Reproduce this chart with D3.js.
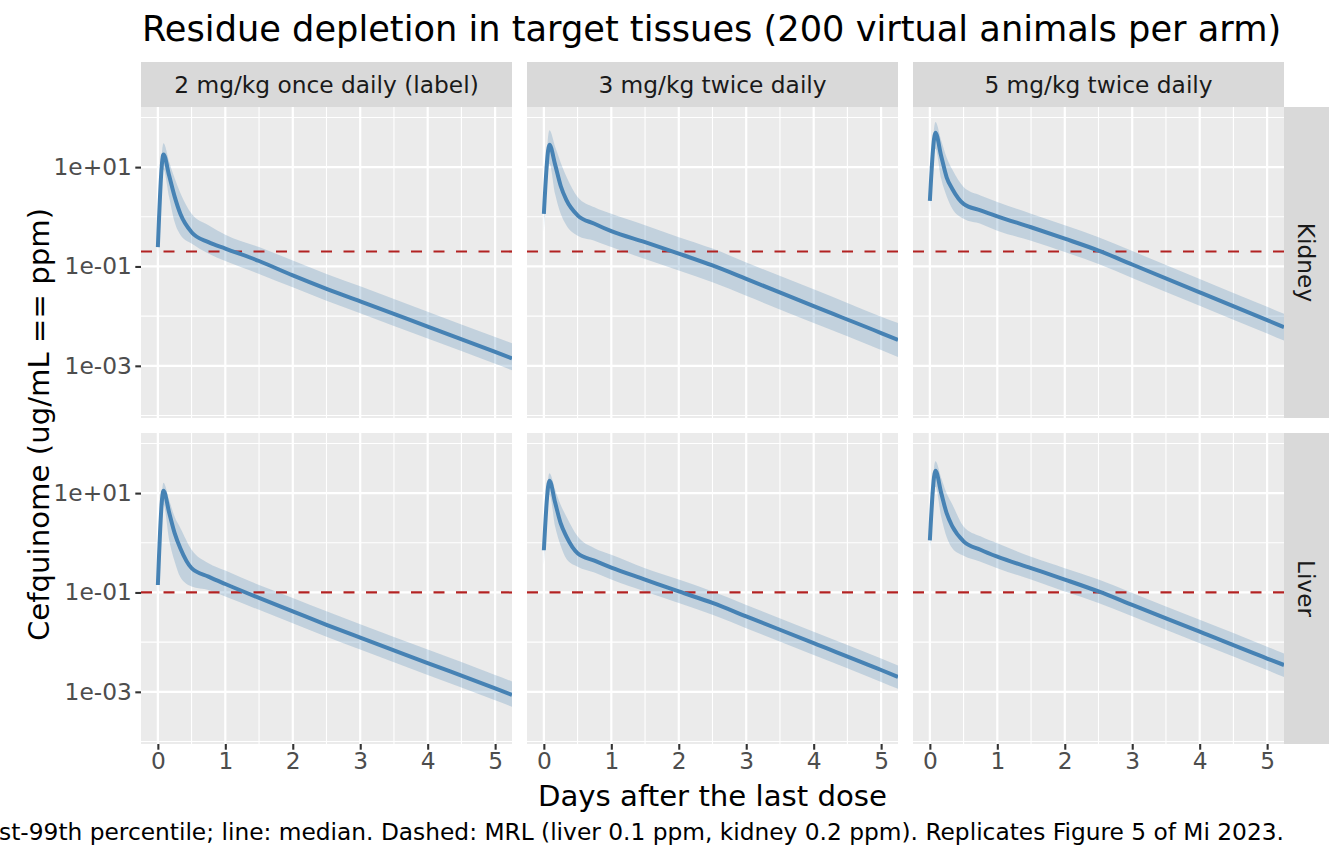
<!DOCTYPE html>
<html>
<head>
<meta charset="utf-8">
<script src="https://cdn.jsdelivr.net/npm/d3@7"></script>
<style>
  body { margin: 0; background: #fff; }
  svg { font-family: "DejaVu Sans", sans-serif; display: block; }
</style>
</head>
<body>
<script>
// facets
var tissues = ['Kidney', 'Liver'];
var regimens = ['2 mg/kg once daily (label)', '3 mg/kg twice daily', '5 mg/kg twice daily'];
var mrl = [0.2, 0.1]; // kidney, liver (ppm)

// sampling times (days after the last dose)
var days = [0, 0.083, 0.167, 0.25, 0.333, 0.5, 0.75, 1, 1.5, 2, 2.5, 3, 4, 5, 5.25];

// log10 concentration (ppm): median, 1st and 99th percentile
var kidney2Med = [-0.61, 1.255, 0.83, 0.40, 0.06, -0.31, -0.51, -0.64, -0.89, -1.18, -1.45, -1.70, -2.21, -2.72, -2.85];
var kidney2Hi  = [-0.48, 1.48, 1.11, 0.77, 0.48, 0.06, -0.17, -0.36, -0.61, -0.88, -1.15, -1.40, -1.91, -2.42, -2.545];
var kidney2Lo  = [-0.88, 0.95, 0.40, -0.11, -0.36, -0.54, -0.74, -0.89, -1.15, -1.42, -1.69, -1.94, -2.45, -2.96, -3.09];

var kidney3Med = [0.06, 1.45, 1.05, 0.62, 0.34, 0.03, -0.14, -0.29, -0.51, -0.74, -0.98, -1.25, -1.80, -2.34, -2.48];
var kidney3Hi  = [0.13, 1.74, 1.41, 1.09, 0.81, 0.40, 0.19, 0.06, -0.17, -0.41, -0.64, -0.92, -1.46, -2.01, -2.14];
var kidney3Lo  = [-0.31, 1.07, 0.46, 0.06, -0.17, -0.38, -0.48, -0.61, -0.85, -1.08, -1.32, -1.59, -2.14, -2.68, -2.82];

var kidney5Med = [0.32, 1.69, 1.23, 0.79, 0.56, 0.26, 0.13, 0.01, -0.21, -0.44, -0.68, -0.96, -1.52, -2.08, -2.22];
var kidney5Hi  = [0.40, 1.91, 1.54, 1.19, 0.95, 0.60, 0.43, 0.30, 0.06, -0.17, -0.41, -0.69, -1.25, -1.81, -1.95];
var kidney5Lo  = [0.03, 1.37, 0.77, 0.41, 0.16, -0.04, -0.14, -0.28, -0.48, -0.71, -0.95, -1.23, -1.79, -2.35, -2.49];

var liver2Med = [-0.85, 1.05, 0.61, 0.19, -0.11, -0.51, -0.68, -0.83, -1.11, -1.38, -1.65, -1.91, -2.42, -2.93, -3.06];
var liver2Hi  = [-0.78, 1.21, 0.86, 0.52, 0.30, -0.14, -0.41, -0.56, -0.85, -1.11, -1.38, -1.64, -2.15, -2.66, -2.79];
var liver2Lo  = [-1.08, 0.77, 0.06, -0.38, -0.69, -0.88, -0.95, -1.08, -1.35, -1.62, -1.89, -2.15, -2.66, -3.17, -3.30];

var liver3Med = [-0.15, 1.25, 0.81, 0.39, 0.13, -0.21, -0.36, -0.50, -0.74, -0.98, -1.21, -1.48, -2.02, -2.56, -2.70];
var liver3Hi  = [-0.10, 1.40, 1.07, 0.76, 0.53, 0.13, -0.11, -0.24, -0.51, -0.74, -0.98, -1.25, -1.79, -2.33, -2.47];
var liver3Lo  = [-0.44, 0.97, 0.33, -0.06, -0.32, -0.48, -0.60, -0.74, -0.98, -1.21, -1.45, -1.72, -2.26, -2.80, -2.94];

var liver5Med = [0.05, 1.45, 1.01, 0.59, 0.33, 0.03, -0.14, -0.28, -0.51, -0.74, -0.98, -1.25, -1.79, -2.33, -2.46];
var liver5Hi  = [0.12, 1.64, 1.31, 0.99, 0.77, 0.33, 0.13, -0.01, -0.28, -0.51, -0.74, -1.01, -1.55, -2.09, -2.23];
var liver5Lo  = [-0.20, 1.13, 0.53, 0.11, -0.11, -0.26, -0.38, -0.51, -0.74, -0.98, -1.21, -1.48, -2.02, -2.56, -2.70];

// axis ticks
var xTicks = [0, 1, 2, 3, 4, 5];
var xMinor = [0.5, 1.5, 2.5, 3.5, 4.5];
var yTicks = [1e1, 1e-1, 1e-3];
var yTickLabels = ['1e+01', '1e-01', '1e-03'];
var yMinor = [1e2, 1e0, 1e-2, 1e-4];

var panels = [
  [[kidney2Med, kidney2Lo, kidney2Hi], [kidney3Med, kidney3Lo, kidney3Hi], [kidney5Med, kidney5Lo, kidney5Hi]],
  [[liver2Med, liver2Lo, liver2Hi], [liver3Med, liver3Lo, liver3Hi], [liver5Med, liver5Lo, liver5Hi]]
];

var W = 1344, H = 864;
var panelLeft = [141, 527, 913];
var panelTop = [107, 433];
var panelW = 371, panelH = 311;
var smallFont = '23.3px';

var svg = d3.select('body').append('svg')
    .attr('width', W)
    .attr('height', H);

var x = d3.scaleLinear().domain([-0.25, 5.25]).range([0, panelW]);
var y = d3.scaleLog().domain([Math.pow(10, -4.05), Math.pow(10, 2.21)]).range([panelH, 0]);

svg.append('defs').append('clipPath')
    .attr('id', 'pclip')
  .append('rect')
    .attr('width', panelW)
    .attr('height', panelH);

var area = d3.area()
    .x(function(d) { return x(d.t); })
    .y0(function(d) { return y(d.lo); })
    .y1(function(d) { return y(d.hi); })
    .curve(d3.curveMonotoneX);

var line = d3.line()
    .x(function(d) { return x(d.t); })
    .y(function(d) { return y(d.med); })
    .curve(d3.curveMonotoneX);

// title
svg.append('text')
    .attr('x', 142)
    .attr('y', 41)
    .style('font-size', '35.2px')
    .style('fill', '#000')
    .text('Residue depletion in target tissues (200 virtual animals per arm)');

tissues.forEach(function(tissue, r) {
  regimens.forEach(function(reg, c) {
    var series = panels[r][c];
    var rows = days.map(function(t, i) {
      return {
        t: t,
        med: Math.pow(10, series[0][i]),
        lo: Math.pow(10, series[1][i]),
        hi: Math.pow(10, series[2][i])
      };
    });

    var g = svg.append('g')
        .attr('transform', 'translate(' + panelLeft[c] + ',' + panelTop[r] + ')');

    g.append('rect')
        .attr('width', panelW)
        .attr('height', panelH)
        .style('fill', '#EBEBEB');

    // grid
    g.selectAll('.ymin')
        .data(yMinor)
        .enter().append('line')
        .attr('x1', 0).attr('x2', panelW)
        .attr('y1', function(d) { return y(d); })
        .attr('y2', function(d) { return y(d); })
        .style('stroke', '#fff').style('stroke-width', 1.1);
    g.selectAll('.xmin')
        .data(xMinor)
        .enter().append('line')
        .attr('y1', 0).attr('y2', panelH)
        .attr('x1', function(d) { return x(d); })
        .attr('x2', function(d) { return x(d); })
        .style('stroke', '#fff').style('stroke-width', 1.1);
    g.selectAll('.ymaj')
        .data(yTicks)
        .enter().append('line')
        .attr('x1', 0).attr('x2', panelW)
        .attr('y1', function(d) { return y(d); })
        .attr('y2', function(d) { return y(d); })
        .style('stroke', '#fff').style('stroke-width', 2.2);
    g.selectAll('.xmaj')
        .data(xTicks)
        .enter().append('line')
        .attr('y1', 0).attr('y2', panelH)
        .attr('x1', function(d) { return x(d); })
        .attr('x2', function(d) { return x(d); })
        .style('stroke', '#fff').style('stroke-width', 2.2);

    var inner = g.append('g').attr('clip-path', 'url(#pclip)');

    inner.append('path')
        .datum(rows)
        .attr('d', area)
        .style('fill', '#4682B4')
        .style('fill-opacity', 0.25);

    inner.append('line')
        .attr('x1', 0).attr('x2', panelW)
        .attr('y1', y(mrl[r])).attr('y2', y(mrl[r]))
        .style('stroke', '#B22222')
        .style('stroke-width', 2.2)
        .style('stroke-dasharray', '11,11.5');

    inner.append('path')
        .datum(rows)
        .attr('d', line)
        .style('fill', 'none')
        .style('stroke', '#4682B4')
        .style('stroke-width', 4)
        .style('stroke-linejoin', 'round');

    // y axis on first column
    if (c == 0) {
      var ya = g.append('g')
          .call(d3.axisLeft(y).tickValues(yTicks)
                .tickFormat(function(d, i) { return yTickLabels[i]; })
                .tickSize(5.7).tickPadding(3.5));
      ya.select('.domain').remove();
      ya.selectAll('.tick line').style('stroke', '#333').style('stroke-width', 2.1);
      ya.selectAll('.tick text')
          .style('font-size', smallFont)
          .style('fill', '#4D4D4D')
          .style('font-family', '"DejaVu Sans", sans-serif');
    }
    // x axis on bottom row
    if (r == 1) {
      var xa = g.append('g')
          .attr('transform', 'translate(0,' + panelH + ')')
          .call(d3.axisBottom(x).tickValues(xTicks)
                .tickFormat(d3.format('d'))
                .tickSize(5.7).tickPadding(3));
      xa.select('.domain').remove();
      xa.selectAll('.tick line').style('stroke', '#333').style('stroke-width', 2.1);
      xa.selectAll('.tick text')
          .style('font-size', smallFont)
          .style('fill', '#4D4D4D')
          .style('font-family', '"DejaVu Sans", sans-serif');
    }

    // top strips
    if (r == 0) {
      svg.append('rect')
          .attr('x', panelLeft[c]).attr('y', 62)
          .attr('width', panelW).attr('height', 45)
          .style('fill', '#D9D9D9');
      svg.append('text')
          .attr('x', panelLeft[c] + panelW / 2)
          .attr('y', 84.5)
          .attr('dy', '0.35em')
          .attr('text-anchor', 'middle')
          .style('font-size', smallFont)
          .style('fill', '#1A1A1A')
          .text(reg);
    }
    // right strips
    if (c == 2) {
      svg.append('rect')
          .attr('x', 1284).attr('y', panelTop[r])
          .attr('width', 45).attr('height', panelH)
          .style('fill', '#D9D9D9');
      svg.append('text')
          .attr('transform', 'translate(1306.5,' + (panelTop[r] + panelH / 2) + ') rotate(90)')
          .attr('dy', '0.35em')
          .attr('text-anchor', 'middle')
          .style('font-size', smallFont)
          .style('fill', '#1A1A1A')
          .text(tissue);
    }
  });
});

// axis titles
svg.append('text')
    .attr('x', (141 + 1284) / 2)
    .attr('y', 806)
    .attr('text-anchor', 'middle')
    .style('font-size', '29.2px')
    .style('fill', '#000')
    .text('Days after the last dose');

svg.append('text')
    .attr('transform', 'translate(49,' + ((107 + 742) / 2) + ') rotate(-90)')
    .attr('text-anchor', 'middle')
    .style('font-size', '29.2px')
    .style('fill', '#000')
    .text('Cefquinome (ug/mL == ppm)');

// caption (right aligned, runs off the left edge like the original)
svg.append('text')
    .attr('x', 1284)
    .attr('y', 840)
    .attr('text-anchor', 'end')
    .style('font-size', smallFont)
    .style('fill', '#000')
    .text('Band: 1st-99th percentile; line: median. Dashed: MRL (liver 0.1 ppm, kidney 0.2 ppm). Replicates Figure 5 of Mi 2023.');
</script>
</body>
</html>
